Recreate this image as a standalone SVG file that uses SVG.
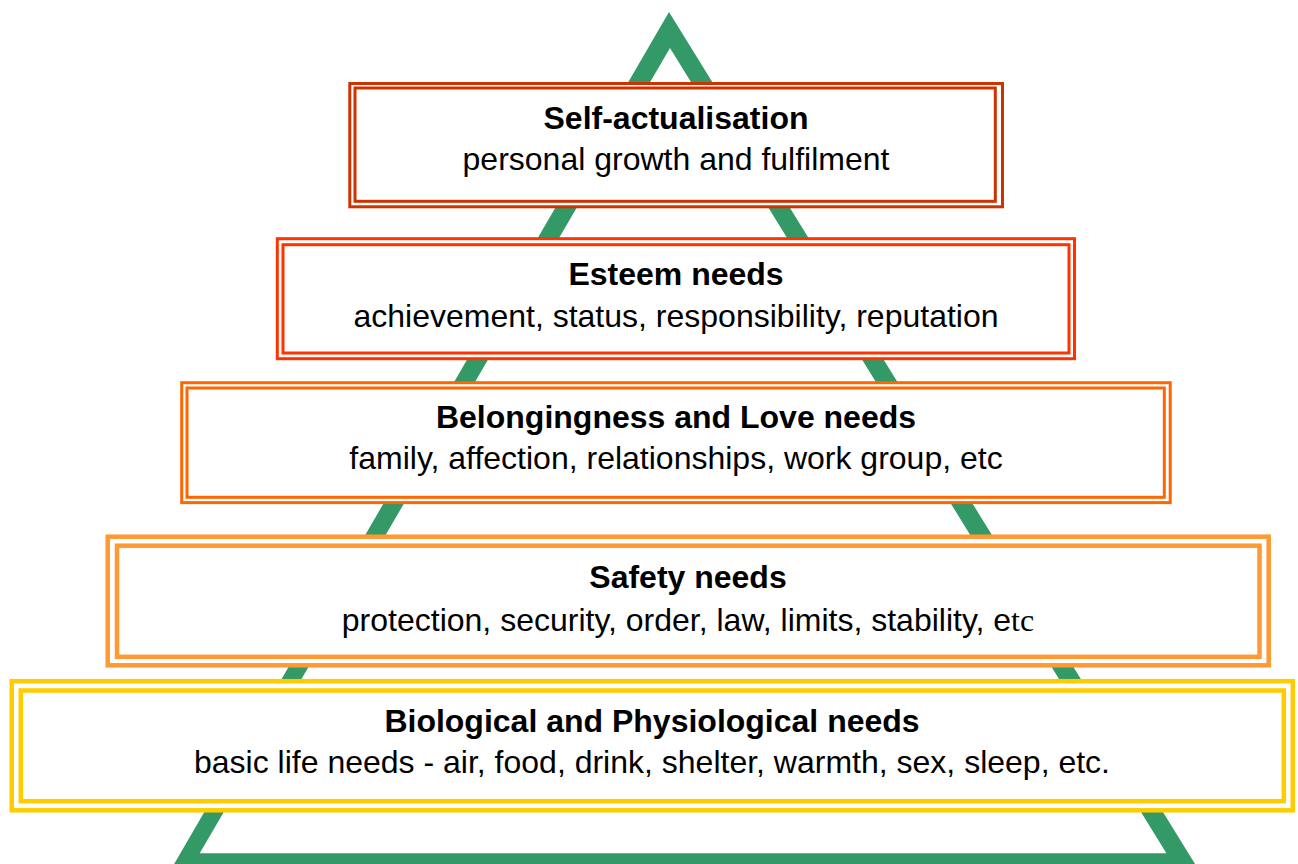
<svg xmlns="http://www.w3.org/2000/svg" width="1298" height="864" viewBox="0 0 1298 864">
<style>
.box{fill:#ffffff}
.ln{fill:none}
.t{font-family:"Liberation Sans",Arial,sans-serif;font-size:32px;fill:#000000;text-anchor:middle}
.b{font-weight:bold}
.serif{font-family:"Liberation Serif","Times New Roman",serif}
</style>
<rect width="1298" height="864" fill="#ffffff"/>
<g id="pyramid">
<path d="M669,12 L1200,872 L169.5,872 Z M670,48 L199.7,853.3 L1166.4,853.3 Z" fill="#339966" fill-rule="evenodd"/>
</g>
<g id="self-actualisation">
<rect class="box" x="349.8" y="83.5" width="652.7" height="123.3" stroke="#CC3300" stroke-width="3"/>
<rect class="ln" x="355" y="88" width="640.3" height="113.3" stroke="#CC3300" stroke-width="3"/>
<text class="t b" x="676" y="128.5">Self-actualisation</text>
<text class="t" x="676" y="169.5">personal growth and fulfilment</text>
</g>
<g id="esteem">
<rect class="box" x="277.3" y="238.7" width="797.2" height="120" stroke="#FF3300" stroke-width="3"/>
<rect class="ln" x="283" y="244.7" width="786" height="108.3" stroke="#FF3300" stroke-width="3"/>
<text class="t b" x="676" y="285">Esteem needs</text>
<text class="t" x="676" y="326.5">achievement, status, responsibility, reputation</text>
</g>
<g id="belongingness">
<rect class="box" x="181.7" y="382.7" width="988.5" height="119.9" stroke="#FF6600" stroke-width="3"/>
<rect class="ln" x="187" y="388" width="977.3" height="109.3" stroke="#FF6600" stroke-width="3"/>
<text class="t b" x="676" y="427.5">Belongingness and Love needs</text>
<text class="t" x="676" y="469">family, affection, relationships, work group, etc</text>
</g>
<g id="safety">
<rect class="box" x="107.7" y="536.7" width="1161" height="128.6" stroke="#FF9933" stroke-width="4.5"/>
<rect class="ln" x="117" y="545.7" width="1142.5" height="111.1" stroke="#FF9933" stroke-width="4.5"/>
<text class="t b" x="688" y="587.5">Safety needs</text>
<text class="t" x="688" y="631">protection, security, order, law, limits, stability, e<tspan class="serif">tc</tspan></text>
</g>
<g id="biological">
<rect class="box" x="11.7" y="681.2" width="1281.1" height="129.1" stroke="#FFCC00" stroke-width="4.5"/>
<rect class="ln" x="20.8" y="690.5" width="1263" height="110.7" stroke="#FFCC00" stroke-width="4.5"/>
<text class="t b" x="652" y="731.5">Biological and Physiological needs</text>
<text class="t" x="652" y="773">basic life needs - air, food, drink, shelter, warmth, sex, sleep, etc.</text>
</g>
<g id="connectors"></g>
</svg>
